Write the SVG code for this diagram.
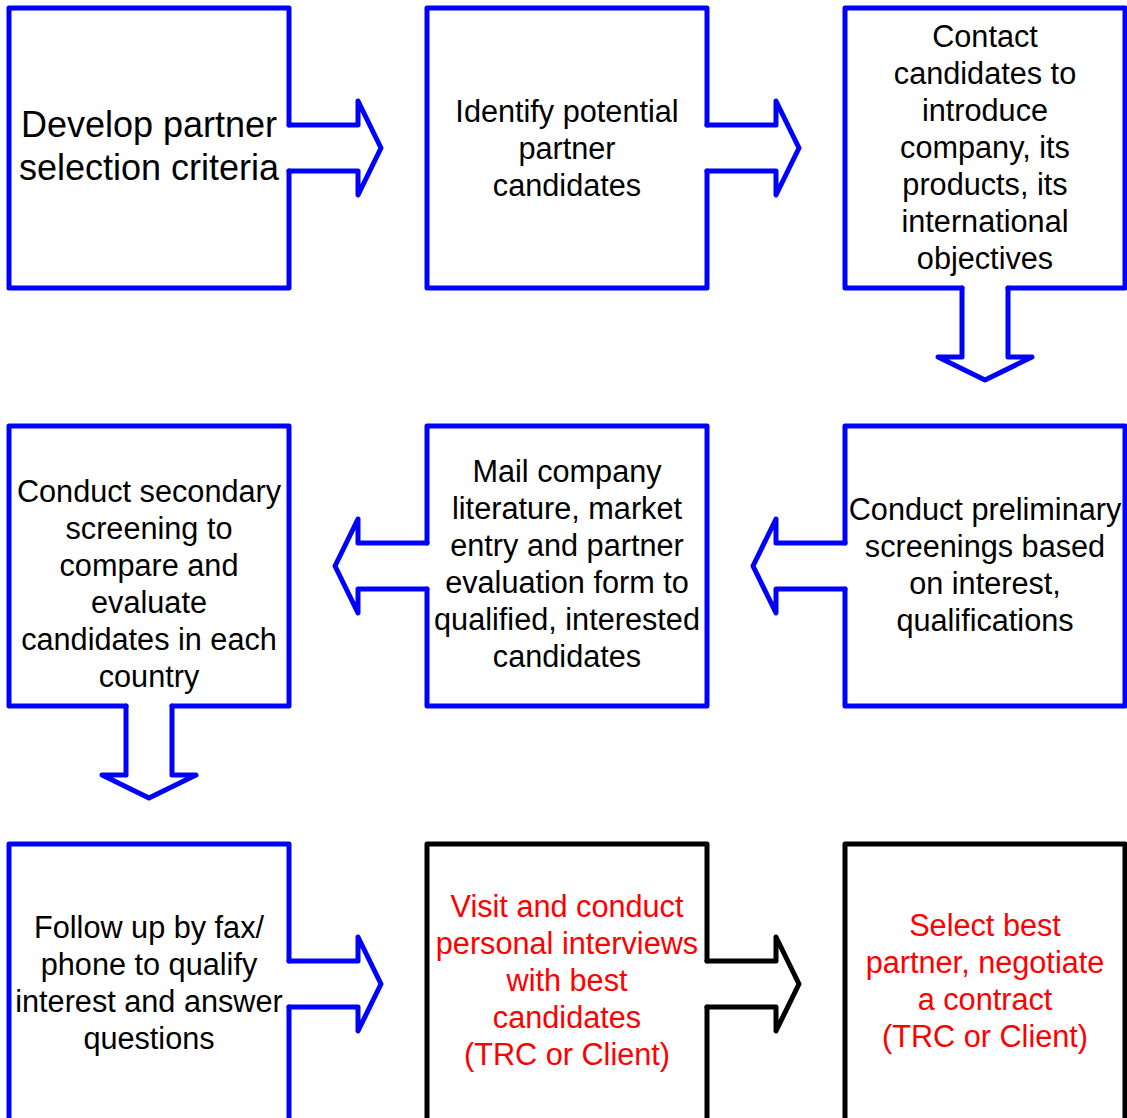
<svg xmlns="http://www.w3.org/2000/svg" width="1127" height="1118" viewBox="0 0 1127 1118">
<style>
.s{fill:none;stroke-width:5;stroke-linejoin:round;stroke-linecap:round}
.b{stroke:#0000FF}
.k{stroke:#000000}
text{font-family:"Liberation Sans",Arial,sans-serif;font-size:30.67px;text-anchor:middle;fill:#000}
.big{font-size:36px}
.red{fill:#FF0000}
</style>
<rect width="1127" height="1118" fill="#fff"/>
<g id="connectors">
<path class="s b" d="M289,125 H358 V101 L381,148 L358,195 V171 H289"/>
<path class="s b" d="M707,125 H776 V101 L799,148 L776,195 V171 H707"/>
<path class="s b" d="M962,288 V357 H938 L985,380 L1032,357 H1008 V288"/>
<path class="s b" d="M845,543 H776 V519 L753,566 L776,613 V589 H845"/>
<path class="s b" d="M427,543 H358 V519 L335,566 L358,613 V589 H427"/>
<path class="s b" d="M126,706 V775 H102 L149,798 L196,775 H172 V706"/>
<path class="s b" d="M289,961 H358 V937 L381,984 L358,1031 V1007 H289"/>
<path class="s k" d="M707,961 H776 V937 L799,984 L776,1031 V1007 H707"/>
</g>
<g id="node1">
<path class="s b" d="M289,125 V8 H9 V288 H289 V171"/>
<text class="big" x="149" y="137">Develop partner</text>
<text class="big" x="149" y="180">selection criteria</text>
</g>
<g id="node2">
<path class="s b" d="M707,125 V8 H427 V288 H707 V171"/>
<text x="567" y="122">Identify potential</text>
<text x="567" y="159">partner</text>
<text x="567" y="196">candidates</text>
</g>
<g id="node3">
<path class="s b" d="M962,288 H845 V8 H1125 V288 H1008"/>
<text x="985" y="47">Contact</text>
<text x="985" y="84">candidates to</text>
<text x="985" y="121">introduce</text>
<text x="985" y="158">company, its</text>
<text x="985" y="195">products, its</text>
<text x="985" y="232">international</text>
<text x="985" y="269">objectives</text>
</g>
<g id="node4">
<path class="s b" d="M126,706 H9 V426 H289 V706 H172"/>
<text x="149" y="502">Conduct secondary</text>
<text x="149" y="539">screening to</text>
<text x="149" y="576">compare and</text>
<text x="149" y="613">evaluate</text>
<text x="149" y="650">candidates in each</text>
<text x="149" y="687">country</text>
</g>
<g id="node5">
<path class="s b" d="M427,543 V426 H707 V706 H427 V589"/>
<text x="567" y="482">Mail company</text>
<text x="567" y="519">literature, market</text>
<text x="567" y="556">entry and partner</text>
<text x="567" y="593">evaluation form to</text>
<text x="567" y="630">qualified, interested</text>
<text x="567" y="667">candidates</text>
</g>
<g id="node6">
<path class="s b" d="M845,543 V426 H1125 V706 H845 V589"/>
<text x="985" y="520">Conduct preliminary</text>
<text x="985" y="557">screenings based</text>
<text x="985" y="594">on interest,</text>
<text x="985" y="631">qualifications</text>
</g>
<g id="node7">
<path class="s b" d="M289,961 V844 H9 V1124 H289 V1007"/>
<text x="149" y="938">Follow up by fax/</text>
<text x="149" y="975">phone to qualify</text>
<text x="149" y="1012">interest and answer</text>
<text x="149" y="1049">questions</text>
</g>
<g id="node8">
<path class="s k" d="M707,961 V844 H427 V1124 H707 V1007"/>
<text class="red" x="567" y="917">Visit and conduct</text>
<text class="red" x="567" y="954">personal interviews</text>
<text class="red" x="567" y="991">with best</text>
<text class="red" x="567" y="1028">candidates</text>
<text class="red" x="567" y="1065">(TRC or Client)</text>
</g>
<g id="node9">
<rect class="s k" x="845" y="844" width="280" height="280"/>
<text class="red" x="985" y="936">Select best</text>
<text class="red" x="985" y="973">partner, negotiate</text>
<text class="red" x="985" y="1010">a contract</text>
<text class="red" x="985" y="1047">(TRC or Client)</text>
</g>
</svg>
